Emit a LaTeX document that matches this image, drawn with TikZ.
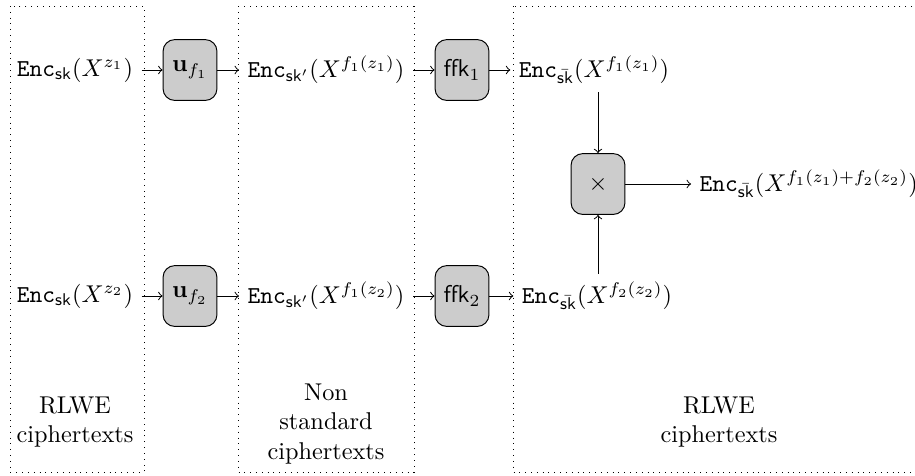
\documentclass[tikz,border=0pt]{standalone}
\tikzset{
  op/.style={draw, fill=black!20, rounded corners=0.17cm,
             minimum width=0.78cm, minimum height=0.88cm, inner sep=1pt},
  zone/.style={draw, dotted},
  lbl/.style={align=center},
}
\newcommand{\Enc}{\mathtt{Enc}}

\begin{document}
\begin{tikzpicture}[x=0.01447cm, y=-0.01447cm, >=to]
\useasboundingbox (0,0) rectangle (915,475);

% ciphertext zones
\draw[zone] (10,6) rectangle (144,472);
\draw[zone] (238,6) rectangle (414,472);
\draw[zone] (513,6) rectangle (990,472);

% first input chain
\node (a1) at (75,70) {$\Enc_{\mathsf{sk}}(X^{z_1})$};
\node[op] (u1) at (190,70) {$\mathbf{u}_{f_1}$};
\node (b1) at (326,70) {$\Enc_{\mathsf{sk}'}(X^{f_1(z_1)})$};
\node[op] (k1) at (462,70) {$\mathsf{ffk}_1$};
\node (c1) at (594,70) {$\Enc_{\bar{\mathsf{sk}}}(X^{f_1(z_1)})$};

% second input chain
\node (a2) at (75,296) {$\Enc_{\mathsf{sk}}(X^{z_2})$};
\node[op] (u2) at (190,296) {$\mathbf{u}_{f_2}$};
\node (b2) at (326,296) {$\Enc_{\mathsf{sk}'}(X^{f_1(z_2)})$};
\node[op] (k2) at (462,296) {$\mathsf{ffk}_2$};
\node (c2) at (597,296) {$\Enc_{\bar{\mathsf{sk}}}(X^{f_2(z_2)})$};

% product
\node[op] (m) at (598,184) {$\times$};
\node[anchor=west] (o) at (691,184) {$\Enc_{\bar{\mathsf{sk}}}(X^{f_1(z_1)+f_2(z_2)})$};

% zone labels
\node[lbl] (l1) at (75,422) {RLWE\\ciphertexts};
\node[lbl] (l2) at (326,424) {Non\\standard\\ciphertexts};
\node[lbl] (l3) at (719,422) {RLWE\\ciphertexts};

% connectors
\draw[->] (a1) -- (u1);
\draw[->] (u1) -- (b1);
\draw[->] (b1) -- (k1);
\draw[->] (k1) -- (c1);
\draw[->] (a2) -- (u2);
\draw[->] (u2) -- (b2);
\draw[->] (b2) -- (k2);
\draw[->] (k2) -- (c2);
\draw[->] (m |- c1.south) -- (m.north);
\draw[->] (m |- c2.north) -- (m.south);
\draw[->] (m) -- (o);
\end{tikzpicture}
\end{document}
